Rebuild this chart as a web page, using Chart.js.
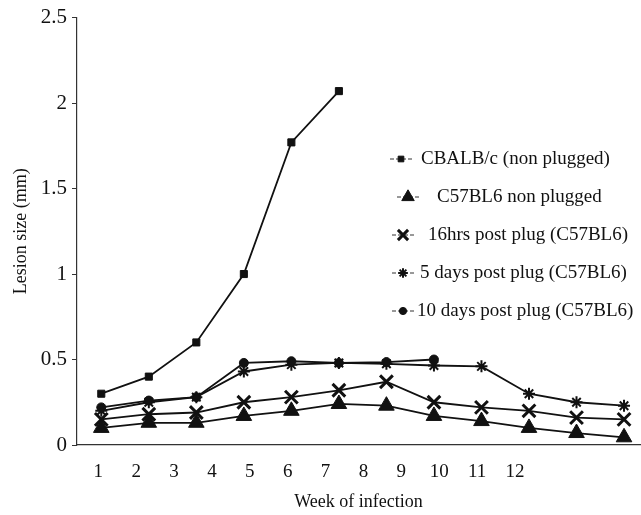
<!DOCTYPE html>
<html>
<head>
<meta charset="utf-8">
<title>Lesion size by week of infection</title>
<script src="https://cdn.jsdelivr.net/npm/chart.js@4.4.1/dist/chart.umd.min.js"></script>
<style>
  body { margin: 0; background: #fff; }
  #chart { display: block; }
</style>
</head>
<body>
<canvas id="chart" width="641" height="515"></canvas>
<script>
// measurement points (weeks) and the printed week labels
const weeks = [1, 2, 3, 4, 5, 6, 7, 8, 9, 10, 11, 12];
const weekLabels = ["1", "2", "3", "4", "5", "6", "7", "8", "9", "10", "11", "12"];
const yTicks = [0, 0.5, 1, 1.5, 2, 2.5];

const seriesNames = [
  "CBALB/c (non plugged)",
  "C57BL6 non plugged",
  "16hrs post plug (C57BL6)",
  "5 days post plug (C57BL6)",
  "10 days post plug (C57BL6)"
];

// lesion size (mm)
const cbalb = [0.30, 0.40, 0.60, 1.00, 1.77, 2.07];
const c57Plain = [0.10, 0.13, 0.13, 0.17, 0.20, 0.24, 0.23, 0.17, 0.14, 0.10, 0.07, 0.045];
const plug16h = [0.15, 0.18, 0.19, 0.25, 0.28, 0.32, 0.37, 0.25, 0.22, 0.20, 0.16, 0.15];
const plug5d = [0.20, 0.25, 0.28, 0.43, 0.47, 0.48, 0.475, 0.465, 0.46, 0.30, 0.25, 0.23];
const plug10d = [0.22, 0.26, 0.28, 0.48, 0.49, 0.48, 0.485, 0.50];

const INK = "#111";
const SERIF = "'Liberation Serif', 'DejaVu Serif', serif";

function points(values) {
  return values.map((v, i) => ({ x: weeks[i], y: v }));
}

function series(label, values, style, radius, borderWidth) {
  return {
    label: label,
    data: points(values),
    xAxisID: "xp",
    borderColor: INK,
    borderWidth: 1.8,
    backgroundColor: INK,
    pointStyle: style,
    pointRadius: radius,
    pointBorderWidth: borderWidth,
    pointBackgroundColor: INK,
    pointBorderColor: INK,
    tension: 0
  };
}

// legend drawn inside the plot, on the right
const sideLegend = {
  id: "sideLegend",
  afterDraw(chart, args, opts) {
    const ctx = chart.ctx;
    ctx.save();
    ctx.font = opts.font;
    ctx.textBaseline = "middle";
    chart.data.datasets.forEach((ds, i) => {
      const y = opts.top + i * opts.step;
      const mx = opts.markerX[i];
      ctx.strokeStyle = "#333";
      ctx.lineWidth = 1;
      ctx.setLineDash([4, 2]);
      ctx.beginPath();
      ctx.moveTo(mx - 11, y);
      ctx.lineTo(mx + 13, y);
      ctx.stroke();
      ctx.setLineDash([]);

      ctx.strokeStyle = INK;
      ctx.fillStyle = INK;
      ctx.lineWidth = ds.pointBorderWidth;
      Chart.helpers.drawPoint(ctx, {
        pointStyle: ds.pointStyle,
        radius: ds.pointRadius * 0.8,
        rotation: 0,
        borderWidth: ds.pointBorderWidth
      }, mx, y);

      ctx.fillStyle = INK;
      ctx.fillText(ds.label, opts.textX[i], y);
    });
    ctx.restore();
  }
};

Chart.defaults.font.family = SERIF;
Chart.defaults.color = INK;

new Chart(document.getElementById("chart").getContext("2d"), {
  type: "line",
  data: {
    datasets: [
      series(seriesNames[0], cbalb, "rect", 5, 1),
      series(seriesNames[1], c57Plain, "triangle", 9, 1),
      series(seriesNames[2], plug16h, "crossRot", 9, 3),
      series(seriesNames[3], plug5d, "star", 6, 2),
      series(seriesNames[4], plug10d, "circle", 4.5, 1)
    ]
  },
  options: {
    responsive: false,
    animation: false,
    layout: {
      autoPadding: false,
      padding: { top: 17, right: 1, left: 0, bottom: 0 }
    },
    scales: {
      // positions of the plotted weeks
      xp: {
        type: "linear",
        display: false,
        min: 0.489,
        max: 12.336
      },
      // printed week labels along the bottom
      x: {
        type: "linear",
        position: "bottom",
        min: 0.438,
        max: 15.3,
        afterBuildTicks: scale => {
          scale.ticks = weekLabels.map((_, i) => ({ value: i + 1 }));
        },
        afterFit: scale => {
          scale.height = 70;
          scale.paddingLeft = 0;
          scale.paddingRight = 0;
        },
        grid: { display: false, drawTicks: false },
        border: { display: true, color: "#333", width: 1.2 },
        ticks: {
          autoSkip: false,
          maxRotation: 0,
          padding: 16,
          font: { size: 19 },
          callback: (value, index) => weekLabels[index]
        },
        title: {
          display: true,
          text: "Week of infection",
          font: { size: 18 },
          padding: { top: 0, bottom: 2 }
        }
      },
      y: {
        type: "linear",
        min: 0,
        max: 2.5,
        afterBuildTicks: scale => {
          scale.ticks = yTicks.map(v => ({ value: v }));
        },
        afterFit: scale => { scale.width = 77; },
        grid: {
          drawOnChartArea: false,
          drawTicks: true,
          tickLength: 5,
          color: "#333"
        },
        border: { display: true, color: "#333", width: 1.2 },
        ticks: {
          padding: 5,
          font: { size: 21 },
          callback: value => String(value)
        },
        title: {
          display: true,
          text: "Lesion size (mm)",
          font: { size: 18 },
          padding: { top: 10, bottom: 0 }
        }
      }
    },
    plugins: {
      legend: { display: false },
      tooltip: { enabled: false },
      sideLegend: {
        font: "19px " + SERIF,
        top: 159,
        step: 38,
        markerX: [401, 408, 403, 403, 403],
        textX: [421, 437, 428, 420, 417]
      }
    }
  },
  plugins: [sideLegend]
});
</script>
</body>
</html>
